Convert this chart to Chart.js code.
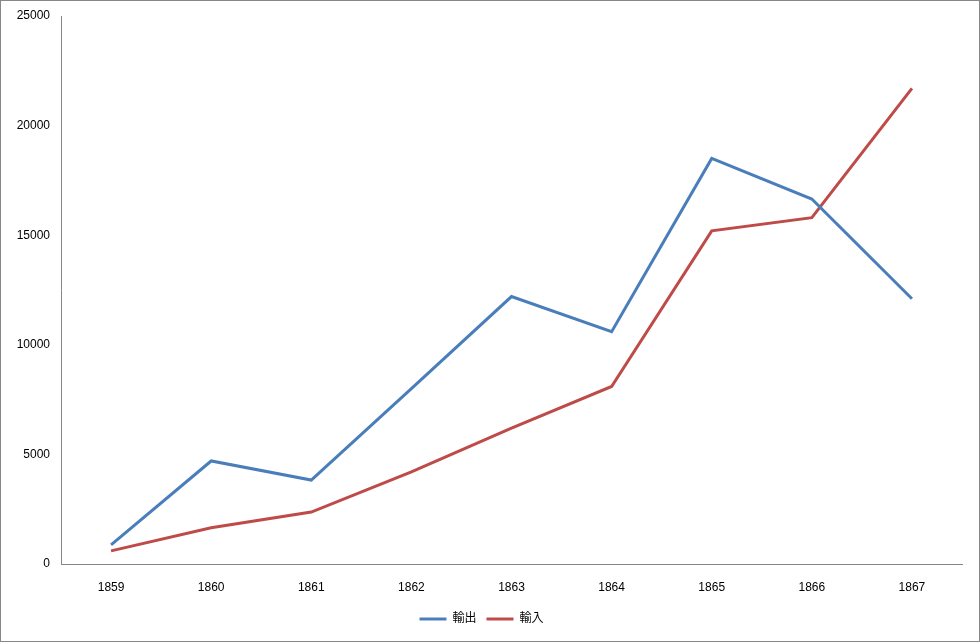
<!DOCTYPE html>
<html lang="ja">
<head>
    <meta charset="UTF-8">
    <title>輸出・輸入</title>
    <script src="https://cdn.jsdelivr.net/npm/chart.js"></script>
    <style>
        body { margin: 0; background: #fff; }
        .box {
            width: 980px; height: 642px;
            box-sizing: border-box;
            border: 1px solid #878787;
            position: relative;
        }
    </style>
</head>
<body>
    <div class="box">
        <canvas id="tradeChart"></canvas>
    </div>

    <script>
        const years = ['1859', '1860', '1861', '1862', '1863', '1864', '1865', '1866', '1867'];
        const exportValues = [870, 4700, 3830, 8000, 12200, 10600, 18500, 16650, 12100];
        const importValues = [600, 1650, 2370, 4200, 6200, 8100, 15200, 15800, 21700];
        const yTicks = [0, 5000, 10000, 15000, 20000, 25000];

        const fontFamily = "'Liberation Sans', 'Noto Sans CJK JP', sans-serif";

        const ctx = document.getElementById('tradeChart').getContext('2d');
        new Chart(ctx, {
            type: 'line',
            data: {
                labels: years,
                datasets: [{
                    label: '輸出',
                    data: exportValues,
                    borderColor: '#4a7ebb',
                    backgroundColor: '#4a7ebb',
                    borderWidth: 3,
                    pointRadius: 0,
                    pointStyle: 'line',
                    tension: 0
                }, {
                    label: '輸入',
                    data: importValues,
                    borderColor: '#be4b48',
                    backgroundColor: '#be4b48',
                    borderWidth: 3,
                    pointRadius: 0,
                    pointStyle: 'line',
                    tension: 0
                }]
            },
            options: {
                responsive: true,
                maintainAspectRatio: false,
                animation: false,
                layout: { padding: { top: 15, right: 17, bottom: 6, left: 0 } },
                plugins: {
                    tooltip: { enabled: false },
                    legend: {
                        position: 'bottom',
                        labels: {
                            usePointStyle: true,
                            pointStyleWidth: 27,
                            padding: 10,
                            color: '#000',
                            font: { family: fontFamily, size: 12 }
                        }
                    }
                },
                scales: {
                    x: {
                        offset: true,
                        grid: { display: false, drawTicks: false },
                        border: { color: '#868686', width: 1 },
                        ticks: {
                            padding: 16,
                            color: '#000',
                            maxRotation: 0,
                            font: { family: fontFamily, size: 12 }
                        },
                        afterFit: function (scale) { scale.height = 39; }
                    },
                    y: {
                        min: 0,
                        max: 25000,
                        afterBuildTicks: function (scale) {
                            scale.ticks = yTicks.map(v => ({ value: v }));
                        },
                        grid: { display: false, drawTicks: false },
                        border: { color: '#868686', width: 1 },
                        ticks: {
                            padding: 11,
                            color: '#000',
                            font: { family: fontFamily, size: 12 },
                            callback: function (value) { return String(value); }
                        },
                        afterFit: function (scale) {
                            scale.width = 60;
                            scale.paddingTop = 8;
                            scale.paddingBottom = 8;
                        }
                    }
                }
            }
        });
    </script>
</body>
</html>
